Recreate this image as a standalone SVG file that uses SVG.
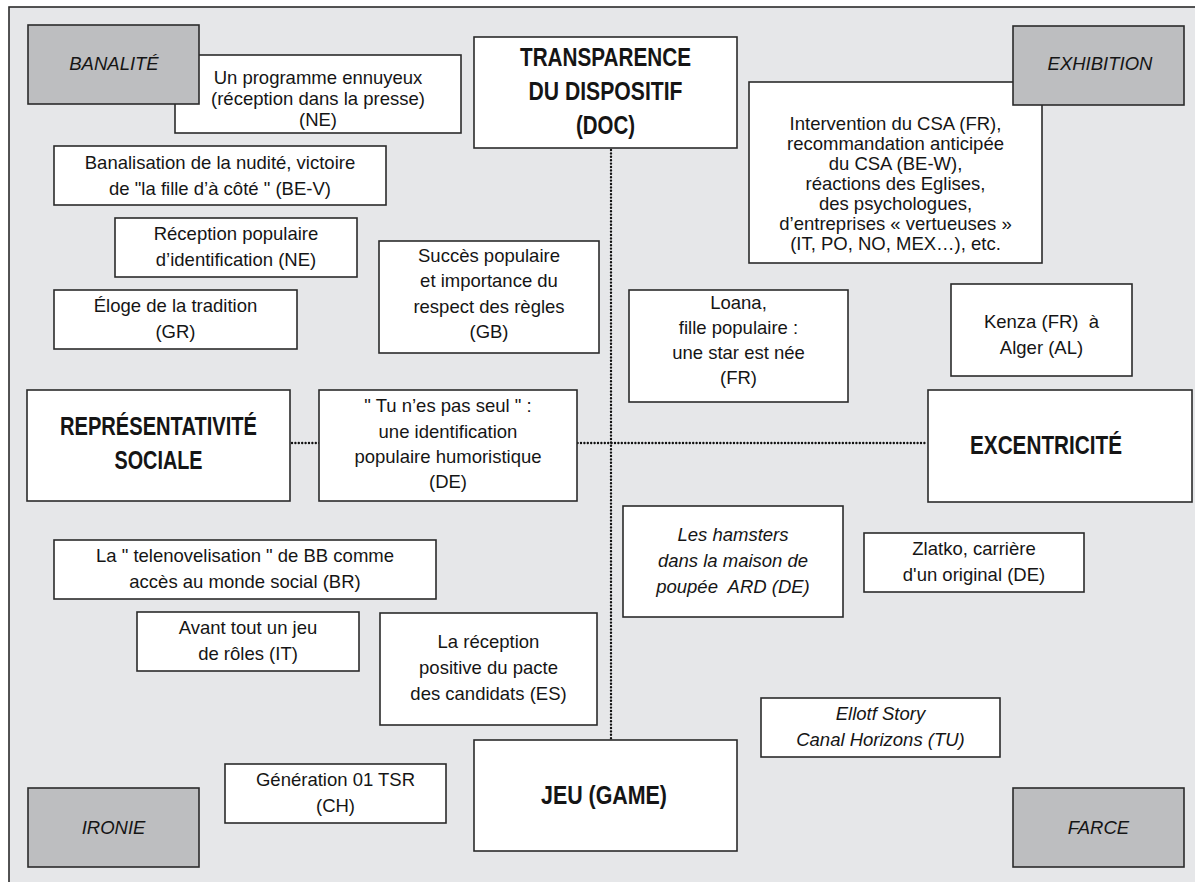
<svg xmlns="http://www.w3.org/2000/svg" width="1195" height="882" viewBox="0 0 1195 882">
<style>
.bg{fill:#e6e7e9;stroke:#2b2b2b;stroke-width:1.6}
.box{fill:#ffffff;stroke:#2b2b2b;stroke-width:1.6}
.gbox{fill:#bdbec0;stroke:#2b2b2b;stroke-width:1.6}
.t{font-family:"Liberation Sans",Arial,sans-serif;font-size:18.5px;fill:#151515;text-anchor:middle}
.i{font-style:italic}
.h{font-family:"Liberation Sans",Arial,sans-serif;font-size:26px;font-weight:bold;fill:#151515;text-anchor:middle}
.pre{white-space:pre}
.dot{fill:none;stroke:#111;stroke-width:2.4;stroke-linecap:round;stroke-dasharray:0 3.4}
</style>
<rect class="bg" x="9" y="7" width="1200" height="900"/>
<g id="connectors">
<line class="dot" x1="611" y1="150" x2="611" y2="739"/>
<line class="dot" x1="292" y1="443" x2="927" y2="443"/>
</g>
<g id="n-programme">
<rect class="box" x="175" y="55" width="286" height="78"/>
<text class="t" x="318" y="84">Un programme ennuyeux</text>
<text class="t" x="318" y="105">(réception dans la presse)</text>
<text class="t" x="318" y="126">(NE)</text>
</g>
<g id="n-banalite">
<rect class="gbox" x="28" y="25" width="171" height="79"/>
<text class="t i" x="114" y="70">BANALITÉ</text>
</g>
<g id="n-transparence">
<rect class="box" x="474" y="37" width="263" height="111"/>
<text class="h" x="605.5" y="66" textLength="171" lengthAdjust="spacingAndGlyphs">TRANSPARENCE</text>
<text class="h" x="605.5" y="100" textLength="154" lengthAdjust="spacingAndGlyphs">DU DISPOSITIF</text>
<text class="h" x="605.5" y="134" textLength="59" lengthAdjust="spacingAndGlyphs">(DOC)</text>
</g>
<g id="n-intervention">
<rect class="box" x="749" y="82" width="293" height="181"/>
<text class="t" x="895.5" y="130">Intervention du CSA (FR),</text>
<text class="t" x="895.5" y="150">recommandation anticipée</text>
<text class="t" x="895.5" y="170">du CSA (BE-W),</text>
<text class="t" x="895.5" y="190">réactions des Eglises,</text>
<text class="t" x="895.5" y="210">des psychologues,</text>
<text class="t" x="895.5" y="230">d’entreprises « vertueuses »</text>
<text class="t" x="895.5" y="250">(IT, PO, NO, MEX…), etc.</text>
</g>
<g id="n-exhibition">
<rect class="gbox" x="1013" y="26" width="171" height="79"/>
<text class="t i" x="1100" y="70">EXHIBITION</text>
</g>
<g id="n-banalisation">
<rect class="box" x="54" y="146" width="332" height="59"/>
<text class="t" x="220" y="169">Banalisation de la nudité, victoire</text>
<text class="t" x="220" y="195">de "la fille d’à côté " (BE-V)</text>
</g>
<g id="n-reception-pop">
<rect class="box" x="115" y="218" width="242" height="59"/>
<text class="t" x="236" y="240">Réception populaire</text>
<text class="t" x="236" y="266">d’identification (NE)</text>
</g>
<g id="n-eloge">
<rect class="box" x="54" y="290" width="243" height="59"/>
<text class="t" x="175.5" y="312">Éloge de la tradition</text>
<text class="t" x="175.5" y="338">(GR)</text>
</g>
<g id="n-succes">
<rect class="box" x="379" y="241" width="220" height="112"/>
<text class="t" x="489" y="262">Succès populaire</text>
<text class="t" x="489" y="287">et importance du</text>
<text class="t" x="489" y="313">respect des règles</text>
<text class="t" x="489" y="338">(GB)</text>
</g>
<g id="n-loana">
<rect class="box" x="629" y="290" width="219" height="112"/>
<text class="t" x="738.5" y="309">Loana,</text>
<text class="t" x="738.5" y="334">fille populaire :</text>
<text class="t" x="738.5" y="359">une star est née</text>
<text class="t" x="738.5" y="384">(FR)</text>
</g>
<g id="n-kenza">
<rect class="box" x="951" y="284" width="181" height="92"/>
<text class="t pre" x="1041.5" y="328">Kenza (FR)  à</text>
<text class="t" x="1041.5" y="354">Alger (AL)</text>
</g>
<g id="n-representativite">
<rect class="box" x="27" y="390" width="263" height="111"/>
<text class="h" x="158.5" y="435" textLength="197" lengthAdjust="spacingAndGlyphs">REPRÉSENTATIVITÉ</text>
<text class="h" x="158.5" y="469" textLength="88" lengthAdjust="spacingAndGlyphs">SOCIALE</text>
</g>
<g id="n-tu">
<rect class="box" x="319" y="390" width="258" height="111"/>
<text class="t" x="448" y="412">" Tu n’es pas seul " :</text>
<text class="t" x="448" y="438">une identification</text>
<text class="t" x="448" y="463">populaire humoristique</text>
<text class="t" x="448" y="488">(DE)</text>
</g>
<g id="n-excentricite">
<rect class="box" x="928" y="390" width="264" height="112"/>
<text class="h" x="1046" y="454" textLength="152" lengthAdjust="spacingAndGlyphs">EXCENTRICITÉ</text>
</g>
<g id="n-hamsters">
<rect class="box" x="623" y="506" width="220" height="111"/>
<text class="t i" x="733" y="541">Les hamsters</text>
<text class="t i" x="733" y="567">dans la maison de</text>
<text class="t i pre" x="733" y="593">poupée  ARD (DE)</text>
</g>
<g id="n-zlatko">
<rect class="box" x="864" y="533" width="220" height="59"/>
<text class="t" x="974" y="555">Zlatko, carrière</text>
<text class="t" x="974" y="581">d'un original (DE)</text>
</g>
<g id="n-telenovelisation">
<rect class="box" x="54" y="540" width="382" height="59"/>
<text class="t" x="245" y="562">La " telenovelisation " de BB comme</text>
<text class="t" x="245" y="588">accès au monde social (BR)</text>
</g>
<g id="n-avant">
<rect class="box" x="137" y="612" width="222" height="59"/>
<text class="t" x="248" y="634">Avant tout un jeu</text>
<text class="t" x="248" y="660">de rôles (IT)</text>
</g>
<g id="n-lareception">
<rect class="box" x="380" y="613" width="217" height="112"/>
<text class="t" x="488.5" y="648">La réception</text>
<text class="t" x="488.5" y="674">positive du pacte</text>
<text class="t" x="488.5" y="700">des candidats (ES)</text>
</g>
<g id="n-ellotf">
<rect class="box" x="761" y="698" width="239" height="59"/>
<text class="t i" x="880.5" y="720">Ellotf Story</text>
<text class="t i" x="880.5" y="746">Canal Horizons (TU)</text>
</g>
<g id="n-generation">
<rect class="box" x="225" y="764" width="221" height="59"/>
<text class="t" x="335.5" y="786">Génération 01 TSR</text>
<text class="t" x="335.5" y="812">(CH)</text>
</g>
<g id="n-jeu">
<rect class="box" x="474" y="740" width="263" height="111"/>
<text class="h" x="604" y="804" textLength="126" lengthAdjust="spacingAndGlyphs">JEU (GAME)</text>
</g>
<g id="n-ironie">
<rect class="gbox" x="28" y="788" width="171" height="79"/>
<text class="t i" x="113.5" y="834">IRONIE</text>
</g>
<g id="n-farce">
<rect class="gbox" x="1013" y="788" width="171" height="79"/>
<text class="t i" x="1098.5" y="834">FARCE</text>
</g>
</svg>
